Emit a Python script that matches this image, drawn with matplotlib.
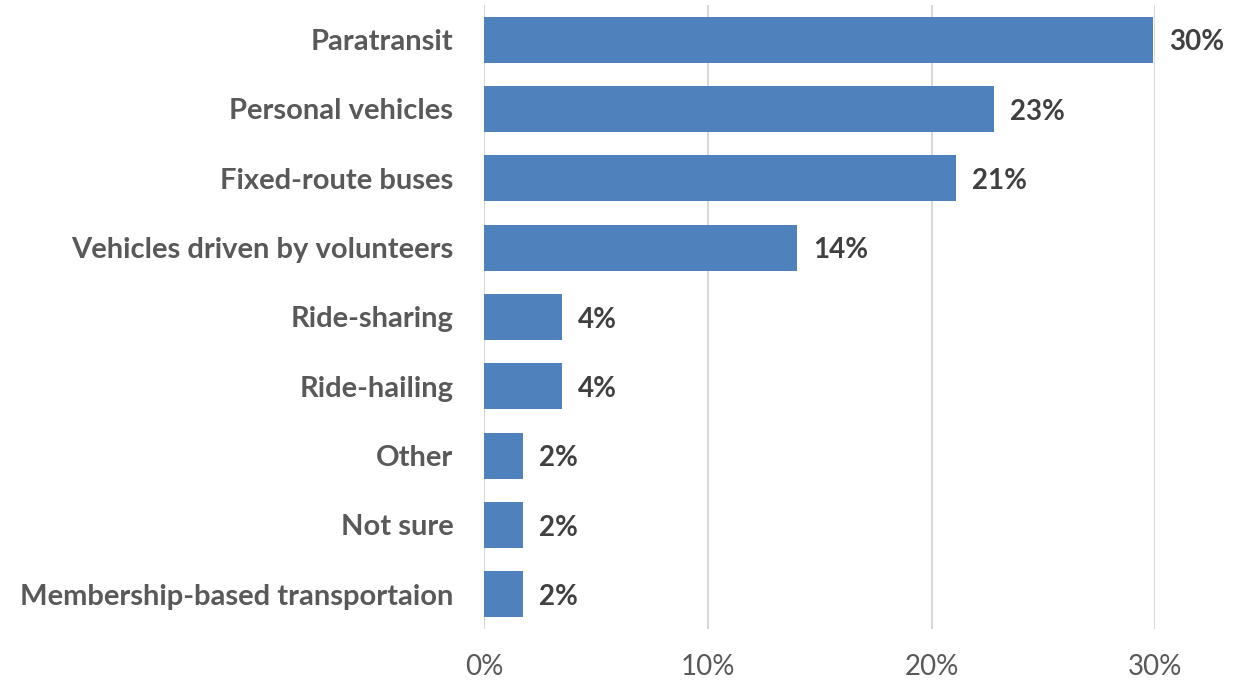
import matplotlib
matplotlib.use("Agg")
import matplotlib.pyplot as plt
from matplotlib.ticker import FuncFormatter

categories = ["Paratransit", "Personal vehicles", "Fixed-route buses",
              "Vehicles driven by volunteers", "Ride-sharing", "Ride-hailing",
              "Other", "Not sure", "Membership-based transportaion"]
values = [29.9, 22.8, 21.1, 14.0, 3.5, 3.5, 1.75, 1.75, 1.75]
labels = ["30%", "23%", "21%", "14%", "4%", "4%", "2%", "2%", "2%"]

plt.rcParams['font.family'] = ['Lato', 'DejaVu Sans']

fig = plt.figure(figsize=(12.34, 6.85), dpi=100)
ax = fig.add_axes([0.3922, 0.0818, 0.5440, 0.9109])

y = list(range(len(categories)))[::-1]
ax.barh(y, values, height=0.66, color="#4F81BD", zorder=3)
for yi, v, lab in zip(y, values, labels):
    ax.text(v + 0.7, yi - 0.04, lab, va="center", ha="left", fontsize=20,
            fontweight="bold", color="#404040")

ax.set_xlim(0, 30)
ax.set_ylim(-0.5, len(categories) - 0.5)
ax.set_xticks([0, 10, 20, 30])
ax.xaxis.set_major_formatter(FuncFormatter(lambda v, p: f"{v:.0f}%"))
ax.set_yticks(y)
ax.set_yticklabels(categories, fontsize=21, fontweight="bold", color="#595959")
ax.tick_params(axis="x", length=0, pad=18, labelsize=20, labelcolor="#595959")
ax.tick_params(axis="y", length=0, pad=22)
ax.grid(axis="x", color="#D9D9D9", linewidth=1.5, zorder=0)
for s in ax.spines.values():
    s.set_visible(False)

fig.savefig("out.png", dpi=100)
